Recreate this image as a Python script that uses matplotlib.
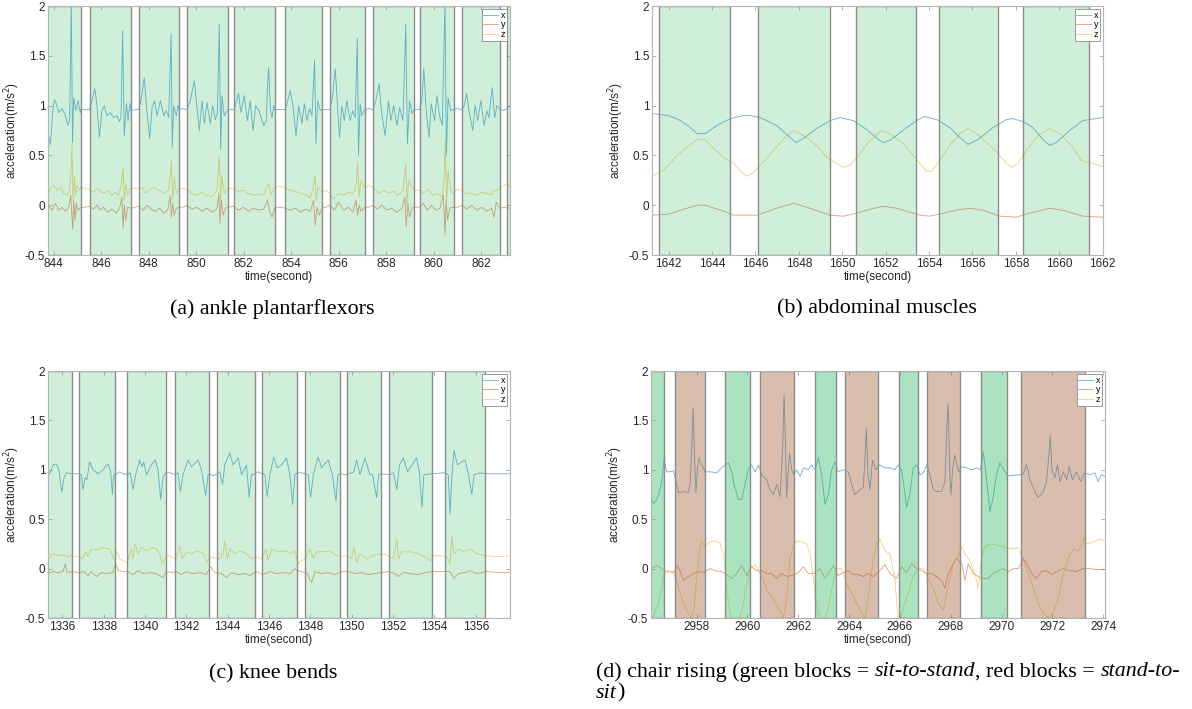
import matplotlib
matplotlib.use('Agg')
import matplotlib.pyplot as plt

plt.rcParams['font.family'] = ['Liberation Sans', 'DejaVu Sans']

# ---- (a) ankle plantarflexors: (time, value) samples
ankle_x = [(843.76, 0.72), (843.86, 0.61), (843.96, 0.95), (844.03, 1.06), (844.11, 1.02), (844.21, 0.93),
           (844.35, 0.97), (844.49, 0.9), (844.59, 0.8), (844.67, 0.85), (844.74, 2.05), (844.79, 0.63),
           (844.84, 1.08), (844.94, 0.95), (845.02, 1.05), (845.12, 0.93), (845.14, 0.96), (845.33, 0.96),
           (845.51, 0.96), (845.61, 1.05), (845.73, 1.17), (845.82, 1.0), (845.92, 0.68), (846.03, 0.95),
           (846.13, 1.0), (846.24, 0.9), (846.38, 0.93), (846.52, 0.88), (846.66, 0.9), (846.76, 0.84),
           (846.83, 0.88), (846.90, 1.75), (846.97, 0.7), (847.06, 1.02), (847.13, 0.85), (847.20, 1.02),
           (847.25, 0.95), (847.44, 0.96), (847.58, 0.96), (847.67, 1.05), (847.81, 1.28), (847.90, 1.0),
           (848.04, 0.67), (848.14, 0.98), (848.24, 1.05), (848.35, 0.9), (848.49, 1.05), (848.63, 0.9),
           (848.74, 0.95), (848.84, 0.88), (848.94, 1.72), (848.99, 0.58), (849.05, 1.0), (849.16, 0.9),
           (849.23, 1.0), (849.29, 0.96), (849.44, 0.97), (849.61, 0.96), (849.75, 1.05), (849.92, 1.25),
           (850.03, 0.98), (850.13, 0.75), (850.24, 1.05), (850.34, 0.82), (850.45, 1.03), (850.59, 0.82),
           (850.69, 1.0), (850.80, 0.86), (850.89, 0.92), (850.97, 1.82), (851.03, 0.56), (851.08, 1.1),
           (851.18, 0.9), (851.34, 0.96), (851.46, 0.96), (851.60, 0.96), (851.78, 1.12), (851.88, 0.93),
           (852.02, 1.1), (852.15, 0.85), (852.27, 1.05), (852.39, 0.75), (852.50, 1.0), (852.64, 0.95),
           (852.84, 0.8), (852.95, 0.85), (853.00, 1.2), (853.05, 1.38), (853.12, 0.95), (853.19, 0.88),
           (853.26, 1.0), (853.30, 0.96), (853.54, 0.96), (853.75, 0.96), (853.85, 1.05), (853.96, 1.15),
           (854.07, 1.0), (854.20, 0.7), (854.31, 1.0), (854.45, 0.82), (854.55, 1.02), (854.66, 0.85),
           (854.77, 0.97), (854.87, 0.9), (854.98, 1.46), (855.04, 0.62), (855.11, 1.05), (855.22, 0.95),
           (855.29, 0.96), (855.46, 0.96), (855.63, 0.96), (855.74, 1.1), (855.85, 1.37), (855.95, 0.98),
           (856.03, 0.68), (856.13, 1.0), (856.23, 0.85), (856.34, 1.05), (856.48, 0.85), (856.59, 0.95),
           (856.69, 0.88), (856.78, 1.68), (856.83, 0.5), (856.90, 1.02), (856.97, 0.9), (857.09, 0.96),
           (857.25, 0.97), (857.44, 0.96), (857.56, 1.05), (857.70, 1.22), (857.79, 0.95), (857.95, 0.7),
           (858.09, 1.05), (858.19, 0.85), (858.31, 1.0), (858.45, 0.8), (858.56, 0.98), (858.70, 0.85),
           (858.82, 1.82), (858.89, 0.62), (858.98, 1.05), (859.08, 0.92), (859.17, 0.96), (859.40, 0.96),
           (859.50, 1.05), (859.58, 1.37), (859.68, 0.95), (859.80, 0.68), (859.89, 1.02), (860.03, 0.85),
           (860.13, 1.1), (860.24, 0.9), (860.36, 0.8), (860.47, 2.05), (860.53, 0.5), (860.60, 1.08),
           (860.71, 0.95), (860.82, 0.96), (860.99, 0.97), (861.19, 0.96), (861.28, 1.0), (861.38, 1.12),
           (861.48, 0.95), (861.64, 0.75), (861.74, 1.0), (861.85, 0.85), (861.98, 1.05), (862.12, 0.8),
           (862.23, 0.95), (862.32, 0.88), (862.46, 1.18), (862.56, 0.88), (862.66, 1.0), (862.77, 0.96),
           (862.93, 0.95), (863.07, 0.97), (863.21, 1.0)]
ankle_y = [(843.76, 0.0), (843.93, -0.05), (844.07, 0.02), (844.21, -0.05), (844.35, -0.02), (844.49, -0.06),
           (844.63, -0.02), (844.72, 0.1), (844.76, -0.1), (844.80, -0.24), (844.84, 0.05), (844.90, -0.15),
           (844.95, 0.02), (845.02, -0.05), (845.14, -0.02), (845.33, -0.02), (845.51, -0.01), (845.68, -0.04),
           (845.82, 0.0), (845.96, -0.05), (846.10, -0.02), (846.27, -0.07), (846.45, -0.04), (846.64, -0.08),
           (846.78, -0.02), (846.87, 0.08), (846.92, -0.23), (846.97, 0.0), (847.03, -0.15), (847.11, -0.02),
           (847.25, -0.03), (847.44, -0.02), (847.58, -0.01), (847.76, -0.05), (847.93, 0.0), (848.10, -0.04),
           (848.28, -0.06), (848.46, -0.03), (848.63, -0.08), (848.80, -0.05), (848.90, 0.1), (848.95, -0.12),
           (849.01, 0.02), (849.07, -0.1), (849.16, -0.03), (849.29, -0.02), (849.44, -0.02), (849.61, 0.0),
           (849.82, -0.04), (850.03, -0.02), (850.24, -0.06), (850.45, -0.03), (850.66, -0.07), (850.87, -0.04),
           (850.95, 0.12), (851.00, -0.18), (851.05, 0.05), (851.13, -0.1), (851.22, -0.03), (851.34, -0.02),
           (851.57, -0.01), (851.78, -0.05), (851.99, -0.02), (852.20, -0.06), (852.41, -0.03), (852.63, -0.05),
           (852.84, -0.04), (853.00, 0.05), (853.09, -0.06), (853.19, -0.12), (853.30, -0.03), (853.54, -0.02),
           (853.75, -0.03), (853.96, -0.05), (854.17, -0.03), (854.38, -0.07), (854.59, -0.04), (854.80, -0.06),
           (854.94, 0.05), (855.01, -0.2), (855.08, -0.02), (855.18, -0.1), (855.29, -0.03), (855.46, -0.02),
           (855.63, 0.0), (855.82, -0.05), (855.99, 0.03), (856.20, -0.05), (856.41, -0.02), (856.59, -0.07),
           (856.73, 0.05), (856.79, -0.1), (856.86, 0.0), (856.94, -0.06), (857.09, -0.02), (857.25, -0.02),
           (857.44, 0.0), (857.63, -0.04), (857.81, 0.0), (858.02, -0.05), (858.23, -0.03), (858.45, -0.07),
           (858.66, -0.03), (858.78, 0.08), (858.84, -0.22), (858.91, 0.02), (858.98, -0.12), (859.08, -0.03),
           (859.17, -0.02), (859.40, -0.02), (859.56, 0.02), (859.73, -0.05), (859.91, 0.0), (860.09, -0.05),
           (860.26, -0.03), (860.40, 0.1), (860.47, -0.3), (860.52, 0.05), (860.58, -0.15), (860.67, -0.03),
           (860.82, -0.02), (860.99, -0.02), (861.19, 0.0), (861.38, -0.04), (861.60, 0.0), (861.81, -0.05),
           (862.02, -0.02), (862.23, -0.06), (862.44, -0.03), (862.53, -0.12), (862.63, 0.03), (862.77, -0.03),
           (862.98, -0.02), (863.19, -0.03)]
ankle_z = [(843.76, 0.1), (843.86, 0.17), (844.00, 0.2), (844.14, 0.15), (844.28, 0.18), (844.42, 0.12),
           (844.56, 0.1), (844.66, 0.14), (844.73, 0.35), (844.77, 0.62), (844.81, 0.05), (844.87, 0.3),
           (844.92, 0.1), (844.98, 0.2), (845.07, 0.15), (845.14, 0.18), (845.33, 0.17), (845.51, 0.16),
           (845.68, 0.13), (845.82, 0.17), (845.96, 0.14), (846.13, 0.12), (846.27, 0.15), (846.45, 0.1),
           (846.59, 0.13), (846.73, 0.1), (846.83, 0.18), (846.92, 0.37), (846.97, 0.05), (847.04, 0.22),
           (847.11, 0.1), (847.22, 0.17), (847.44, 0.17), (847.58, 0.16), (847.72, 0.18), (847.86, 0.12),
           (848.00, 0.15), (848.21, 0.18), (848.42, 0.15), (848.63, 0.12), (848.84, 0.16), (848.91, 0.3),
           (848.95, 0.45), (849.01, 0.05), (849.08, 0.28), (849.16, 0.12), (849.29, 0.17), (849.44, 0.17),
           (849.61, 0.16), (849.82, 0.12), (850.03, 0.1), (850.24, 0.13), (850.45, 0.1), (850.66, 0.08),
           (850.87, 0.15), (850.97, 0.5), (851.03, 0.05), (851.08, 0.3), (851.18, 0.12), (851.34, 0.17),
           (851.57, 0.17), (851.78, 0.14), (851.99, 0.15), (852.20, 0.12), (852.41, 0.1), (852.63, 0.11),
           (852.84, 0.1), (852.98, 0.18), (853.05, 0.22), (853.14, 0.1), (853.30, 0.18), (853.54, 0.19),
           (853.75, 0.17), (853.96, 0.15), (854.17, 0.14), (854.38, 0.12), (854.59, 0.11), (854.80, 0.07),
           (854.94, 0.2), (855.00, 0.3), (855.05, 0.05), (855.12, 0.18), (855.29, 0.13), (855.46, 0.15),
           (855.63, 0.12), (855.78, 0.06), (855.99, 0.12), (856.20, 0.1), (856.41, 0.13), (856.62, 0.12),
           (856.73, 0.2), (856.79, 0.43), (856.85, 0.08), (856.93, 0.25), (857.09, 0.17), (857.25, 0.2),
           (857.44, 0.18), (857.68, 0.12), (857.89, 0.15), (858.09, 0.12), (858.31, 0.14), (858.49, 0.1),
           (858.70, 0.15), (858.82, 0.42), (858.87, 0.0), (858.94, 0.25), (859.03, 0.2), (859.17, 0.15),
           (859.40, 0.15), (859.56, 0.12), (859.77, 0.16), (859.96, 0.1), (860.17, 0.12), (860.36, 0.08),
           (860.44, 0.3), (860.48, 0.65), (860.54, 0.05), (860.60, 0.35), (860.70, 0.15), (860.82, 0.12),
           (860.99, 0.16), (861.19, 0.15), (861.38, 0.12), (861.60, 0.12), (861.81, 0.1), (862.02, 0.13),
           (862.23, 0.12), (862.44, 0.1), (862.49, 0.15), (862.63, 0.14), (862.77, 0.18), (862.98, 0.2),
           (863.12, 0.22), (863.19, 0.18)]
ankle_blocks = [(843.5, 845.14), (845.51, 847.25), (847.58, 849.29), (849.61, 851.34), (851.60, 853.30),
                (853.75, 855.29), (855.63, 857.09), (857.44, 859.18), (859.40, 860.84), (861.19, 862.77),
                (863.07, 864.0)]

# ---- (b) abdominal muscles
abdo_x = [(1641.23, 0.92), (1642.00, 0.9), (1642.54, 0.85), (1643.00, 0.78), (1643.30, 0.72), (1643.69, 0.72),
          (1644.22, 0.8), (1644.84, 0.87), (1645.45, 0.9), (1645.76, 0.9), (1646.22, 0.88), (1646.98, 0.8),
          (1647.60, 0.68), (1647.86, 0.63), (1648.21, 0.67), (1648.82, 0.77), (1649.44, 0.85), (1649.90, 0.88),
          (1650.51, 0.85), (1651.13, 0.76), (1651.66, 0.66), (1651.89, 0.63), (1652.20, 0.65), (1652.97, 0.78),
          (1653.50, 0.86), (1653.81, 0.89), (1654.35, 0.86), (1654.96, 0.78), (1655.42, 0.68), (1655.80, 0.61),
          (1656.26, 0.66), (1656.95, 0.78), (1657.57, 0.86), (1657.87, 0.87), (1658.33, 0.84), (1658.79, 0.78),
          (1659.25, 0.66), (1659.56, 0.6), (1659.87, 0.63), (1660.48, 0.75), (1661.09, 0.85), (1662.01, 0.88)]
abdo_y = [(1641.23, -0.1), (1642.00, -0.09), (1642.69, -0.04), (1643.30, 0.0), (1643.69, 0.0), (1644.53, -0.06),
          (1644.99, -0.1), (1646.06, -0.1), (1646.98, -0.03), (1647.75, 0.02), (1648.36, -0.02), (1649.44, -0.1),
          (1650.05, -0.11), (1650.67, -0.08), (1651.28, -0.04), (1651.89, -0.01), (1652.51, -0.03),
          (1653.58, -0.1), (1654.04, -0.11), (1654.65, -0.08), (1655.27, -0.05), (1655.88, -0.03),
          (1656.49, -0.05), (1657.26, -0.11), (1658.02, -0.12), (1658.64, -0.08), (1659.56, -0.03),
          (1660.17, -0.05), (1661.09, -0.11), (1662.01, -0.12)]
abdo_z = [(1641.23, 0.29), (1641.77, 0.35), (1642.38, 0.5), (1642.84, 0.58), (1643.30, 0.66), (1643.69, 0.66),
          (1643.92, 0.6), (1644.53, 0.48), (1644.99, 0.42), (1645.37, 0.33), (1645.60, 0.29), (1645.91, 0.33),
          (1646.22, 0.4), (1646.83, 0.55), (1647.44, 0.7), (1647.78, 0.75), (1648.21, 0.7), (1648.82, 0.6),
          (1649.29, 0.48), (1649.75, 0.42), (1650.05, 0.38), (1650.36, 0.4), (1650.67, 0.48), (1651.28, 0.65),
          (1651.82, 0.75), (1652.20, 0.72), (1652.81, 0.62), (1653.27, 0.5), (1653.66, 0.4), (1653.89, 0.34),
          (1654.12, 0.34), (1654.42, 0.43), (1654.96, 0.6), (1655.42, 0.72), (1655.80, 0.77), (1656.19, 0.72),
          (1656.80, 0.6), (1657.26, 0.5), (1657.57, 0.42), (1657.80, 0.38), (1658.10, 0.42), (1658.49, 0.55),
          (1659.02, 0.7), (1659.56, 0.77), (1660.02, 0.72), (1660.63, 0.58), (1661.01, 0.45), (1661.55, 0.42),
          (1662.01, 0.39)]
abdo_blocks = [(1641.54, 1644.82), (1646.11, 1649.45), (1650.63, 1653.41), (1654.44, 1657.20), (1658.32, 1661.37)]

# ---- (c) knee bends
knee_x = [(1335.31, 0.95), (1335.42, 0.97), (1335.55, 1.05), (1335.71, 1.06), (1335.84, 1.0), (1335.92, 0.85),
          (1335.98, 0.78), (1336.06, 0.9), (1336.19, 0.97), (1336.48, 0.96), (1336.81, 0.96), (1336.92, 0.95),
          (1337.00, 0.8), (1337.10, 0.92), (1337.19, 0.9), (1337.32, 1.08), (1337.49, 1.0), (1337.73, 0.96),
          (1337.97, 1.0), (1338.21, 1.06), (1338.34, 0.98), (1338.42, 0.75), (1338.49, 0.95), (1338.57, 0.95),
          (1338.78, 0.98), (1338.94, 0.96), (1339.15, 0.95), (1339.29, 0.97), (1339.42, 0.8), (1339.55, 0.95),
          (1339.74, 1.1), (1339.86, 1.03), (1339.94, 1.08), (1340.07, 0.95), (1340.31, 1.05), (1340.50, 1.1),
          (1340.63, 1.0), (1340.76, 0.7), (1340.87, 0.92), (1341.00, 0.97), (1341.23, 0.97), (1341.44, 0.95),
          (1341.60, 0.97), (1341.71, 0.78), (1341.84, 0.95), (1342.09, 1.1), (1342.25, 1.03), (1342.57, 1.1),
          (1342.73, 1.0), (1342.94, 0.74), (1343.05, 0.95), (1343.12, 0.96), (1343.30, 0.94), (1343.49, 0.96),
          (1343.62, 0.98), (1343.75, 0.85), (1343.86, 1.05), (1344.10, 1.17), (1344.26, 1.05), (1344.51, 1.12),
          (1344.67, 0.95), (1344.91, 1.05), (1345.04, 0.72), (1345.15, 0.95), (1345.30, 0.96), (1345.47, 0.98),
          (1345.65, 0.96), (1345.80, 0.95), (1345.91, 0.73), (1346.04, 0.95), (1346.23, 1.13), (1346.40, 1.02),
          (1346.61, 1.05), (1346.85, 1.12), (1347.01, 0.95), (1347.14, 0.65), (1347.25, 0.95), (1347.36, 0.97),
          (1347.57, 0.97), (1347.75, 0.96), (1347.90, 0.95), (1348.01, 0.72), (1348.14, 0.95), (1348.38, 1.13),
          (1348.54, 1.02), (1348.87, 1.1), (1349.06, 0.95), (1349.24, 0.68), (1349.33, 0.95), (1349.43, 0.96),
          (1349.75, 0.95), (1349.99, 0.97), (1350.11, 0.98), (1350.24, 1.1), (1350.40, 0.95), (1350.64, 1.12),
          (1350.88, 0.95), (1351.01, 0.95), (1351.21, 0.72), (1351.30, 0.95), (1351.42, 0.96), (1351.82, 0.95),
          (1352.02, 0.97), (1352.18, 0.8), (1352.31, 1.05), (1352.50, 1.12), (1352.70, 0.98), (1353.14, 1.12),
          (1353.27, 0.98), (1353.40, 0.62), (1353.49, 0.95), (1353.87, 0.96), (1354.50, 0.97), (1354.67, 0.95),
          (1354.76, 0.55), (1354.85, 0.95), (1354.95, 1.2), (1355.11, 1.05), (1355.32, 1.08), (1355.48, 1.1),
          (1355.65, 0.95), (1355.81, 0.75), (1355.92, 0.95), (1356.21, 0.97), (1356.47, 0.96), (1357.66, 0.96)]
knee_y = [(1335.31, -0.05), (1335.55, -0.03), (1335.79, -0.04), (1336.03, -0.03), (1336.15, 0.05), (1336.24, -0.04),
          (1336.48, -0.03), (1336.81, -0.04), (1337.08, -0.03), (1337.24, -0.07), (1337.40, -0.03),
          (1337.65, -0.08), (1337.89, -0.04), (1338.13, -0.05), (1338.45, -0.04), (1338.58, 0.06),
          (1338.70, -0.02), (1338.94, -0.03), (1339.18, -0.03), (1339.42, -0.06), (1339.66, -0.02),
          (1339.91, -0.05), (1340.23, -0.04), (1340.55, -0.05), (1340.87, -0.09), (1341.04, -0.03),
          (1341.28, -0.04), (1341.52, -0.03), (1341.76, -0.06), (1342.00, -0.03), (1342.33, -0.05),
          (1342.65, -0.04), (1342.97, -0.06), (1343.17, 0.02), (1343.38, -0.04), (1343.70, -0.05),
          (1343.94, -0.09), (1344.18, -0.04), (1344.51, -0.06), (1344.83, -0.05), (1345.07, -0.07),
          (1345.39, -0.03), (1345.71, -0.06), (1346.04, -0.03), (1346.36, -0.05), (1346.69, -0.04),
          (1347.01, -0.05), (1347.25, 0.0), (1347.49, -0.03), (1347.82, -0.04), (1348.06, -0.14),
          (1348.22, -0.03), (1348.54, -0.05), (1348.87, -0.04), (1349.19, -0.06), (1349.51, -0.03),
          (1349.83, -0.03), (1350.16, -0.05), (1350.48, -0.04), (1350.80, -0.06), (1351.12, -0.05),
          (1351.42, -0.04), (1351.77, -0.03), (1352.09, -0.05), (1352.25, -0.08), (1352.50, -0.04),
          (1352.82, -0.05), (1353.22, -0.06), (1353.54, -0.04), (1353.95, -0.03), (1354.36, -0.03),
          (1354.76, -0.03), (1354.93, -0.1), (1355.16, -0.05), (1355.48, -0.04), (1355.73, -0.02),
          (1356.05, -0.05), (1356.54, -0.03), (1357.18, -0.04), (1357.66, -0.04)]
knee_z = [(1335.31, 0.09), (1335.55, 0.15), (1335.79, 0.13), (1336.03, 0.14), (1336.27, 0.12), (1336.48, 0.13),
          (1336.81, 0.12), (1336.97, 0.1), (1337.13, 0.17), (1337.24, 0.12), (1337.40, 0.2), (1337.65, 0.19),
          (1337.97, 0.21), (1338.29, 0.2), (1338.45, 0.12), (1338.53, 0.08), (1338.61, 0.18), (1338.78, 0.1),
          (1338.94, 0.08), (1339.15, 0.06), (1339.34, 0.2), (1339.42, 0.1), (1339.53, 0.25), (1339.66, 0.15),
          (1339.83, 0.22), (1340.07, 0.18), (1340.31, 0.21), (1340.55, 0.2), (1340.71, 0.15), (1340.83, 0.05),
          (1341.00, 0.12), (1341.20, 0.13), (1341.44, 0.1), (1341.60, 0.15), (1341.68, 0.23), (1341.80, 0.1),
          (1342.00, 0.17), (1342.25, 0.15), (1342.49, 0.18), (1342.81, 0.16), (1343.01, 0.06), (1343.13, 0.12),
          (1343.30, 0.11), (1343.62, 0.1), (1343.78, 0.15), (1343.86, 0.28), (1343.98, 0.1), (1344.10, 0.2),
          (1344.34, 0.15), (1344.59, 0.18), (1344.91, 0.15), (1345.15, 0.1), (1345.39, 0.12), (1345.64, 0.1),
          (1345.85, 0.2), (1345.96, 0.08), (1346.12, 0.2), (1346.44, 0.17), (1346.77, 0.18), (1347.09, 0.15),
          (1347.25, 0.18), (1347.41, 0.05), (1347.57, 0.08), (1347.74, 0.1), (1347.98, 0.2), (1348.14, 0.1),
          (1348.30, 0.17), (1348.62, 0.17), (1348.95, 0.18), (1349.19, 0.14), (1349.43, 0.12), (1349.75, 0.13),
          (1349.99, 0.1), (1350.11, 0.22), (1350.24, 0.06), (1350.40, 0.15), (1350.72, 0.1), (1350.96, 0.12),
          (1351.21, 0.15), (1351.42, 0.14), (1351.61, 0.15), (1351.82, 0.12), (1352.02, 0.1), (1352.18, 0.3),
          (1352.27, 0.1), (1352.42, 0.17), (1352.82, 0.17), (1353.22, 0.15), (1353.54, 0.12), (1353.79, 0.08),
          (1353.95, 0.13), (1354.28, 0.13), (1354.60, 0.12), (1354.76, 0.05), (1354.84, 0.33), (1354.95, 0.15),
          (1355.16, 0.2), (1355.40, 0.17), (1355.73, 0.2), (1356.05, 0.15), (1356.29, 0.14), (1356.54, 0.13),
          (1357.18, 0.12), (1357.66, 0.13)]
knee_blocks = [(1335.0, 1336.48), (1336.81, 1338.57), (1339.15, 1341.00), (1341.44, 1343.12), (1343.49, 1345.30),
               (1345.65, 1347.36), (1347.75, 1349.43), (1349.75, 1351.42), (1351.82, 1353.87), (1354.50, 1356.47)]

# ---- (d) chair rising
chair_x = [(2956.20, 0.72), (2956.30, 0.66), (2956.43, 0.7), (2956.56, 0.8), (2956.66, 0.95), (2956.71, 1.1),
           (2956.82, 0.98), (2956.95, 0.98), (2957.08, 0.99), (2957.17, 0.9), (2957.28, 0.77), (2957.48, 0.78),
           (2957.67, 0.77), (2957.74, 0.85), (2957.80, 1.2), (2957.86, 1.63), (2957.92, 1.1), (2957.97, 0.77),
           (2958.03, 1.0), (2958.09, 1.12), (2958.20, 1.05), (2958.33, 0.98), (2958.52, 0.98), (2958.79, 0.97),
           (2958.98, 1.02), (2959.11, 1.05), (2959.25, 1.07), (2959.38, 0.98), (2959.47, 0.85), (2959.64, 0.7),
           (2959.77, 0.7), (2959.90, 0.85), (2960.03, 1.0), (2960.16, 1.05), (2960.30, 0.98), (2960.43, 1.05),
           (2960.56, 0.95), (2960.75, 0.9), (2960.89, 0.8), (2961.02, 0.75), (2961.15, 0.85), (2961.28, 0.73),
           (2961.38, 1.2), (2961.44, 1.76), (2961.50, 1.2), (2961.54, 0.72), (2961.65, 1.17), (2961.74, 1.0),
           (2961.83, 0.95), (2961.93, 1.0), (2962.07, 0.93), (2962.20, 1.02), (2962.39, 1.0), (2962.52, 1.05),
           (2962.66, 1.0), (2962.79, 1.12), (2962.92, 0.95), (2963.05, 0.65), (2963.18, 0.75), (2963.31, 1.0),
           (2963.44, 1.08), (2963.57, 0.98), (2963.77, 1.0), (2963.97, 0.98), (2964.10, 0.85), (2964.23, 0.75),
           (2964.43, 0.8), (2964.56, 0.82), (2964.62, 1.1), (2964.68, 1.42), (2964.74, 0.95), (2964.82, 0.8),
           (2964.92, 1.1), (2965.06, 1.0), (2965.21, 1.05), (2965.41, 1.02), (2965.61, 1.02), (2965.80, 1.0),
           (2965.93, 1.05), (2966.07, 1.0), (2966.20, 0.75), (2966.26, 0.62), (2966.39, 0.75), (2966.52, 1.02),
           (2966.66, 1.05), (2966.79, 0.95), (2966.92, 0.97), (2967.05, 1.05), (2967.18, 0.95), (2967.31, 0.8),
           (2967.44, 0.78), (2967.64, 0.78), (2967.77, 0.88), (2967.86, 1.5), (2967.90, 1.67), (2967.97, 0.9),
           (2968.01, 0.75), (2968.07, 1.0), (2968.16, 1.15), (2968.30, 0.98), (2968.43, 1.03), (2968.62, 1.02),
           (2968.82, 1.0), (2969.02, 1.02), (2969.17, 1.0), (2969.28, 1.18), (2969.41, 0.9), (2969.54, 0.58),
           (2969.67, 0.72), (2969.80, 0.95), (2969.93, 1.07), (2970.13, 0.98), (2970.26, 0.94), (2970.72, 0.95),
           (2970.85, 0.96), (2970.98, 1.05), (2971.12, 0.9), (2971.31, 0.78), (2971.44, 0.72), (2971.64, 0.78),
           (2971.77, 0.88), (2971.88, 1.2), (2971.92, 1.35), (2971.98, 1.0), (2972.10, 0.92), (2972.20, 1.05),
           (2972.30, 0.88), (2972.43, 0.98), (2972.56, 0.9), (2972.66, 1.03), (2972.79, 0.9), (2972.95, 0.98),
           (2973.11, 0.88), (2973.27, 0.97), (2973.48, 0.95), (2973.67, 0.97), (2973.80, 0.88), (2973.93, 0.95),
           (2974.07, 0.93)]
chair_y = [(2956.20, 0.0), (2956.43, 0.03), (2956.62, 0.0), (2956.82, -0.03), (2957.08, -0.04), (2957.24, 0.03),
           (2957.34, -0.02), (2957.48, -0.12), (2957.67, -0.08), (2957.87, -0.05), (2958.07, -0.03),
           (2958.26, -0.04), (2958.52, 0.0), (2958.72, -0.02), (2958.98, -0.03), (2959.18, -0.06),
           (2959.38, -0.1), (2959.57, -0.05), (2959.77, 0.03), (2959.97, -0.07), (2960.16, 0.02),
           (2960.36, -0.02), (2960.56, -0.02), (2960.75, -0.05), (2960.95, -0.05), (2961.15, -0.1),
           (2961.34, -0.05), (2961.54, -0.08), (2961.74, -0.07), (2962.00, -0.04), (2962.20, 0.02),
           (2962.39, -0.05), (2962.59, -0.05), (2962.85, 0.0), (2963.05, -0.1), (2963.18, -0.05),
           (2963.38, 0.03), (2963.57, -0.07), (2963.77, -0.04), (2963.97, -0.02), (2964.16, -0.06),
           (2964.36, -0.06), (2964.56, -0.08), (2964.75, -0.05), (2964.95, -0.08), (2965.21, -0.02),
           (2965.41, 0.04), (2965.61, -0.05), (2965.87, -0.1), (2966.07, 0.02), (2966.26, -0.04),
           (2966.46, 0.05), (2966.66, 0.0), (2966.85, -0.02), (2967.05, -0.05), (2967.25, -0.05),
           (2967.44, -0.08), (2967.64, -0.12), (2967.77, -0.2), (2967.90, -0.05), (2968.10, 0.05),
           (2968.23, 0.1), (2968.43, 0.05), (2968.56, -0.12), (2968.69, 0.05), (2968.89, -0.05),
           (2969.08, -0.08), (2969.28, -0.1), (2969.47, -0.1), (2969.67, -0.05), (2969.87, -0.02),
           (2970.06, 0.0), (2970.26, -0.03), (2970.46, 0.0), (2970.66, 0.0), (2970.85, 0.1), (2970.98, 0.06),
           (2971.18, -0.05), (2971.38, -0.1), (2971.57, -0.03), (2971.77, -0.02), (2971.97, -0.06),
           (2972.16, -0.03), (2972.43, 0.0), (2972.69, -0.02), (2972.95, -0.03), (2973.21, 0.0),
           (2973.48, 0.0), (2973.74, -0.01), (2974.07, -0.01)]
chair_z = [(2956.20, -0.55), (2956.49, -0.35), (2956.62, -0.2), (2956.71, -0.05), (2956.89, -0.02),
           (2957.08, -0.03), (2957.24, -0.15), (2957.41, -0.3), (2957.61, -0.43), (2957.80, -0.5),
           (2957.90, -0.4), (2958.00, -0.1), (2958.13, 0.2), (2958.20, 0.28), (2958.33, 0.22), (2958.52, 0.27),
           (2958.72, 0.28), (2958.92, 0.26), (2959.05, 0.15), (2959.18, -0.2), (2959.31, -0.45),
           (2959.44, -0.55), (2959.70, -0.5), (2959.84, -0.35), (2959.97, -0.15), (2960.10, 0.0),
           (2960.30, 0.05), (2960.43, -0.02), (2960.62, -0.12), (2960.82, -0.25), (2961.02, -0.3),
           (2961.15, -0.38), (2961.28, -0.42), (2961.41, -0.5), (2961.54, -0.3), (2961.67, 0.1), (2961.80, 0.22),
           (2961.93, 0.28), (2962.13, 0.27), (2962.33, 0.25), (2962.46, 0.15), (2962.59, -0.1), (2962.72, -0.35),
           (2962.85, -0.5), (2962.98, -0.55), (2963.18, -0.4), (2963.38, -0.12), (2963.51, 0.0), (2963.70, 0.0),
           (2963.90, -0.15), (2964.10, -0.25), (2964.30, -0.35), (2964.49, -0.45), (2964.62, -0.5),
           (2964.75, -0.3), (2964.89, 0.0), (2965.08, 0.25), (2965.21, 0.3), (2965.41, 0.18), (2965.61, 0.15),
           (2965.80, -0.1), (2965.90, -0.45), (2965.93, -0.6), (2966.13, -0.4), (2966.33, -0.25),
           (2966.52, -0.08), (2966.72, 0.0), (2966.92, 0.0), (2967.11, -0.1), (2967.31, -0.2), (2967.51, -0.35),
           (2967.71, -0.42), (2967.84, -0.25), (2967.97, -0.1), (2968.10, 0.05), (2968.23, 0.1), (2968.43, 0.22),
           (2968.56, 0.15), (2968.75, 0.08), (2968.95, -0.05), (2969.08, -0.2), (2969.21, 0.1), (2969.34, 0.22),
           (2969.54, 0.25), (2969.80, 0.24), (2970.13, 0.22), (2970.33, 0.2), (2970.66, 0.21), (2970.85, 0.1),
           (2971.05, -0.05), (2971.25, -0.2), (2971.44, -0.35), (2971.64, -0.45), (2971.84, -0.5),
           (2972.03, -0.45), (2972.23, -0.3), (2972.43, -0.05), (2972.62, 0.1), (2972.82, 0.2), (2973.02, 0.18),
           (2973.19, 0.25), (2973.27, 0.32), (2973.34, 0.25), (2973.61, 0.27), (2973.87, 0.3), (2974.07, 0.28)]
chair_green = [(2955.9, 2956.71), (2959.11, 2960.11), (2962.66, 2963.50), (2965.95, 2966.72), (2969.19, 2970.22)]
chair_red = [(2957.15, 2958.31), (2960.48, 2961.82), (2963.82, 2965.12), (2967.06, 2968.36), (2970.75, 2973.27)]

ytick_vals = [-0.5, 0, 0.5, 1, 1.5, 2]
ytick_labels = ['-0.5', '0', '0.5', '1', '1.5', '2']

COL_X = '#0072BD'
COL_Y = '#D95319'
COL_Z = '#EDB120'
GREEN_LIGHT = (0.18, 0.72, 0.38, 0.225)
GREEN_DARK = (0.18, 0.72, 0.38, 0.40)
BROWN = (0.63, 0.37, 0.20, 0.40)
EDGE = '#8c8c8c'
TXT = '#262626'

fig = plt.figure(figsize=(11.92, 7.09), dpi=100)


def draw_panel(rect, xs, ys, zs, xlim, xticks, green, green_col, red=None):
    ax = fig.add_axes(rect)
    for data, col, lab in ((xs, COL_X, 'x'), (ys, COL_Y, 'y'), (zs, COL_Z, 'z')):
        t, v = zip(*data)
        ax.plot(t, v, color=col, lw=0.65, alpha=0.55, label=lab, zorder=2)
    for t0, t1 in green:
        ax.axvspan(t0, t1, facecolor=green_col, edgecolor=EDGE, lw=1.0, zorder=3)
    if red:
        for t0, t1 in red:
            ax.axvspan(t0, t1, facecolor=BROWN, edgecolor=EDGE, lw=1.0, zorder=3)
    ax.set_xlim(*xlim)
    ax.set_ylim(-0.5, 2)
    ax.set_yticks(ytick_vals)
    ax.set_yticklabels(ytick_labels)
    ax.set_xticks(xticks)
    ax.set_xticklabels([str(v) for v in xticks])
    ax.tick_params(direction='in', top=True, right=True, length=3, width=0.6,
                   color='#a8a8a8', labelcolor=TXT, labelsize=8.5, pad=2)
    for s in ax.spines.values():
        s.set_color('#b4b4b4')
        s.set_linewidth(0.8)
        s.set_zorder(4)
    ax.set_xlabel('time(second)', fontsize=8.5, color=TXT, labelpad=1)
    ax.set_ylabel('acceleration(m/s$^2$)', fontsize=8.5, color=TXT, labelpad=2)
    leg = ax.legend(loc='upper right', fontsize=6.5, handlelength=1.6, handletextpad=0.3,
                    borderpad=0.2, labelspacing=0.05, borderaxespad=0.35, fancybox=False,
                    framealpha=1, edgecolor='#9a9a9a')
    leg.get_frame().set_linewidth(0.7)
    leg.set_zorder(6)
    return ax


draw_panel([0.0403, 0.6403, 0.3876, 0.3512], ankle_x, ankle_y, ankle_z, (843.76, 863.21),
           list(range(844, 863, 2)), ankle_blocks, GREEN_LIGHT)
draw_panel([0.5470, 0.6403, 0.3783, 0.3512], abdo_x, abdo_y, abdo_z, (1641.23, 1662.02),
           list(range(1642, 1663, 2)), abdo_blocks, GREEN_LIGHT)
draw_panel([0.0403, 0.1283, 0.3876, 0.3484], knee_x, knee_y, knee_z, (1335.31, 1357.66),
           list(range(1336, 1357, 2)), knee_blocks, GREEN_LIGHT)
draw_panel([0.5461, 0.1283, 0.3809, 0.3484], chair_x, chair_y, chair_z, (2956.20, 2974.07),
           list(range(2958, 2975, 2)), chair_green, GREEN_DARK, chair_red)

# captions (serif, like the paper's subcaptions)
CAP = dict(fontsize=15.8, family='Liberation Serif', color='black')
W, H = fig.get_size_inches() * fig.dpi
fig.text(272 / W, 1 - 309 / H, '(a) ankle plantarflexors', ha='center', va='center', **CAP)
fig.text(877 / W, 1 - 309 / H, '(b) abdominal muscles', ha='center', va='center', **CAP)
fig.text(273 / W, 1 - 674 / H, '(c) knee bends', ha='center', va='center', **CAP)

renderer = fig.canvas.get_renderer()


def text_width(s, style):
    t = fig.text(0, 0, s, style=style, **CAP)
    w = t.get_window_extent(renderer).width
    t.remove()
    return w


space = text_width('a a', 'normal') - text_width('aa', 'normal')
runs = [('(d) chair rising (green blocks =', 'normal'), ('sit-to-stand', 'italic'),
        (', red blocks =', 'normal'), ('stand-to-', 'italic')]
x = 596.0
for i, (s, st) in enumerate(runs):
    if i > 0 and not s.startswith(','):
        x += space
    t = fig.text(x / W, 1 - 672 / H, s, style=st, ha='left', va='center', **CAP)
    x += t.get_window_extent(renderer).width
t = fig.text(596 / W, 1 - 693 / H, 'sit', style='italic', ha='left', va='center', **CAP)
w = t.get_window_extent(renderer).width
fig.text((596 + w) / W, 1 - 693 / H, ')', ha='left', va='center', **CAP)

fig.savefig('out.png', dpi=100)
